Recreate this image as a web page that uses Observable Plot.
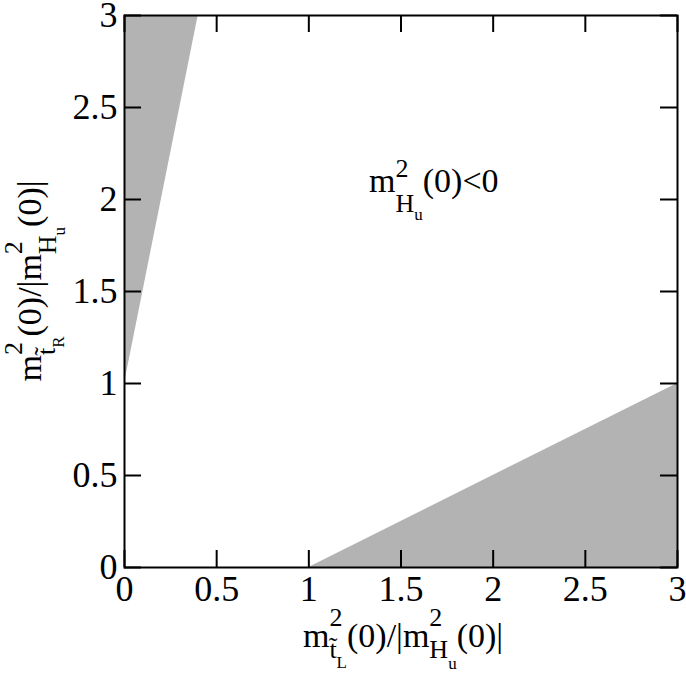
<!DOCTYPE html>
<html>
<head>
<meta charset="utf-8">
<script src="https://cdn.jsdelivr.net/npm/d3@7"></script>
<script src="https://cdn.jsdelivr.net/npm/@observablehq/plot@0.6"></script>
<style>
  html, body { margin: 0; padding: 0; background: #fff; }
  svg { display: block; }
  svg text, svg tspan { font-family: "Liberation Serif", "Times New Roman", "DejaVu Serif", serif !important; }
</style>
</head>
<body>
<div id="chart"></div>
<script>
// ---- data ----
const xTicks = [0, 0.5, 1, 1.5, 2, 2.5, 3];
const xTickLabels = ["0", "0.5", "1", "1.5", "2", "2.5", "3"];
const yTicks = [0, 0.5, 1, 1.5, 2, 2.5, 3];
const yTickLabels = ["0", "0.5", "1", "1.5", "2", "2.5", "3"];

// upper-left shaded region (excluded)
const upperX = [0, 0.4];
const upperLo = [1, 3];
const upperHi = [3, 3];
// lower-right shaded region (excluded)
const lowerX = [1, 3];
const lowerLo = [0, 0];
const lowerHi = [0, 1];

const upper = upperX.map((x, i) => ({x, lo: upperLo[i], hi: upperHi[i]}));
const lower = lowerX.map((x, i) => ({x, lo: lowerLo[i], hi: lowerHi[i]}));

const W = 686, H = 674;
const mL = 124, mR = 9, mT = 15, mB = 107;
const pw = W - mL - mR, ph = H - mT - mB;
const tickLen = 17;
const font = '"Liberation Serif", "Times New Roman", serif';
const tickFont = 36;

const chart = Plot.plot({
  width: W,
  height: H,
  marginLeft: mL, marginRight: mR, marginTop: mT, marginBottom: mB,
  style: {fontFamily: font, fontSize: tickFont + "px", background: "#fff", color: "#000", overflow: "visible"},
  x: {domain: [0, 3]},
  y: {domain: [0, 3]},
  marks: [
    Plot.area(upper, {x1: "x", y1: "lo", y2: "hi", fill: "#b3b3b3"}),
    Plot.area(lower, {x1: "x", y1: "lo", y2: "hi", fill: "#b3b3b3"}),
    // inward ticks on all four sides
    Plot.tickX(xTicks, {x: d => d, stroke: "#000", strokeWidth: 2, insetTop: ph - tickLen}),
    Plot.tickX(xTicks, {x: d => d, stroke: "#000", strokeWidth: 2, insetBottom: ph - tickLen}),
    Plot.tickY(yTicks, {y: d => d, stroke: "#000", strokeWidth: 2, insetRight: pw - tickLen}),
    Plot.tickY(yTicks, {y: d => d, stroke: "#000", strokeWidth: 2, insetLeft: pw - tickLen}),
    Plot.axisX(xTicks, {anchor: "bottom", tickSize: 0, tickPadding: 8, fontSize: tickFont, label: null,
      tickFormat: d => xTickLabels[xTicks.indexOf(d)]}),
    Plot.axisY(yTicks, {anchor: "left", tickSize: 0, tickPadding: 7, fontSize: tickFont, label: null,
      tickFormat: d => yTickLabels[yTicks.indexOf(d)]}),
    Plot.frame({stroke: "#000", strokeWidth: 2})
  ]
});

document.getElementById("chart").appendChild(chart);

// ---- rich text labels (sub/superscripts) ----
const svg = d3.select(chart);
svg.selectAll("text").style("font-family", font);

function richText({x, y, rotate = 0, anchor = "middle"}, segs) {
  const t = svg.append("text")
    .attr("transform", `translate(${x},${y}) rotate(${rotate})`)
    .attr("text-anchor", anchor)
    .style("font-family", font)
    .attr("fill", "#000");
  let cur = 0;
  let supW = 0, subW = 0, inStack = false;
  segs.forEach(s => {
    const ts = t.append("tspan")
      .style("font-size", s.size + "px")
      .attr("dy", s.shift - cur)
      .text(s.text);
    cur = s.shift;
    if (s.role === "sup") { inStack = true; subW = 0; }
    if (s.role === "subStart") { ts.attr("dx", -supW); }
    const w = ts.node().getComputedTextLength();
    if (s.role === "sup") supW = w;
    else if (s.role === "subStart" || s.role === "sub") subW += w;
    else if (inStack) {
      const extra = Math.max(0, supW - subW);
      if (extra > 0) ts.attr("dx", extra);
      inStack = false;
    }
  });
  return t;
}

const M = 34, S = 26, SS = 17;

// x-axis label
richText({x: 403, y: 647}, [
  {text: "m", size: M, shift: 0},
  {text: "2", size: S, shift: -21, role: "sup"},
  {text: "t\u0303", size: S, shift: 11, role: "subStart"},
  {text: "L", size: SS, shift: 21, role: "sub"},
  {text: "(0)/|m", size: M, shift: 0},
  {text: "2", size: S, shift: -21, role: "sup"},
  {text: "H", size: S, shift: 11, role: "subStart"},
  {text: "u", size: SS, shift: 22, role: "sub"},
  {text: "(0)|", size: M, shift: 0}
]);

// y-axis label (rotated)
richText({x: 41, y: 281, rotate: -90}, [
  {text: "m", size: M, shift: 0},
  {text: "2", size: S, shift: -19, role: "sup"},
  {text: "t\u0303", size: S, shift: 14, role: "subStart"},
  {text: "R", size: SS, shift: 23, role: "sub"},
  {text: "(0)/|m", size: M, shift: 0},
  {text: "2", size: S, shift: -19, role: "sup"},
  {text: "H", size: S, shift: 15, role: "subStart"},
  {text: "u", size: SS, shift: 24, role: "sub"},
  {text: "(0)|", size: M, shift: 0}
]);

// annotation inside the plot
richText({x: 369, y: 192, anchor: "start"}, [
  {text: "m", size: M, shift: 0},
  {text: "2", size: S, shift: -15, role: "sup"},
  {text: "H", size: S, shift: 20, role: "subStart"},
  {text: "u", size: SS, shift: 28, role: "sub"},
  {text: "(0)<0", size: M, shift: 0}
]);
</script>
</body>
</html>
